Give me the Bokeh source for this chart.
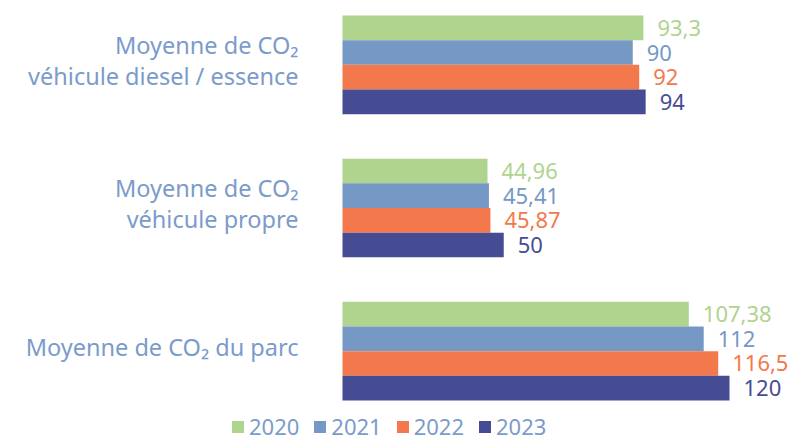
from bokeh.plotting import figure
from bokeh.layouts import column
from bokeh.models import FactorRange, Range1d, ColumnDataSource, Legend, LegendItem
from bokeh.core.properties import value
from bokeh.embed import file_html
from bokeh.resources import INLINE

categories = ["Moyenne de CO₂\nvéhicule diesel / essence",
              "Moyenne de CO₂\nvéhicule propre",
              "Moyenne de CO₂ du parc"]
years = ["2020", "2021", "2022", "2023"]
v2020 = [93.3, 44.96, 107.38]
v2021 = [90, 45.41, 112]
v2022 = [92, 45.87, 116.5]
v2023 = [94, 50, 120]
series = {"2020": v2020, "2021": v2021, "2022": v2022, "2023": v2023}
colors = {"2020": "#AED48E", "2021": "#7598C4", "2022": "#F3784C", "2023": "#464C94"}
label_color = "#7B9BCB"
FONT = "Noto Sans"

factors = [(c, y) for c in categories for y in years][::-1]

W = 789
PAD_PX = 8
UNIT_PX = 385.0 / 15.6
H_MAIN = 400 + PAD_PX
H_LEG = 441 - H_MAIN
zero_px = 342.0
scale = 387.0 / 120.0

p = figure(width=W, height=H_MAIN, output_backend="svg", toolbar_location=None,
           x_range=Range1d(-zero_px / scale, (W - zero_px) / scale),
           y_range=FactorRange(*factors, group_padding=1.8,
                               range_padding=PAD_PX / UNIT_PX, range_padding_units="absolute"),
           min_border_left=0, min_border_right=0, min_border_top=15 - PAD_PX, min_border_bottom=0)
p.axis.visible = False
p.grid.visible = False
p.outline_line_color = None
p.background_fill_color = "white"
p.border_fill_color = "white"

for y in years:
    vals = series[y]
    src = ColumnDataSource(dict(
        y=[(c, y) for c in categories],
        v=vals,
        lab=[f"{v:g}".replace(".", ",") for v in vals],
    ))
    p.hbar(y="y", left=0, right="v", height=1.0, source=src,
           fill_color=colors[y], line_color=None)
    p.text(x="v", y="y", text="lab", source=src, x_offset=14,
           text_align="left", text_baseline="middle",
           text_font=value(FONT), text_font_size="22px", text_color=colors[y])

lsrc = ColumnDataSource(dict(y=[(c, "2021") for c in categories], t=categories))
p.text(x=0, y="y", text="t", source=lsrc, x_offset=-44, y_offset=8,
       text_align="right", text_baseline="middle", text_line_height=0.95,
       text_font=value(FONT), text_font_size="23.5px", text_color=label_color)

# legend strip
q = figure(width=W, height=H_LEG, output_backend="svg", toolbar_location=None,
           x_range=Range1d(0, 1), y_range=Range1d(0, 1),
           min_border_left=0, min_border_right=0, min_border_top=0, min_border_bottom=0)
q.axis.visible = False
q.grid.visible = False
q.outline_line_color = None
items = []
for y in years:
    src = ColumnDataSource(dict(y=list(range(len(categories))), v=series[y]))
    r = q.hbar(y="y", right="v", height=1, source=src,
               fill_color=colors[y], line_color=None, visible=False)
    items.append(LegendItem(label=y, renderers=[r], index=0))
legend = Legend(items=items, orientation="horizontal", location=(230, 0),
                label_text_font=FONT, label_text_font_size="22px",
                label_text_color=label_color, glyph_width=15, glyph_height=15,
                label_standoff=4, spacing=13, padding=0, margin=0,
                border_line_color=None, background_fill_alpha=0,
                inactive_fill_alpha=0, label_height=20)
q.add_layout(legend, "center")

layout = column(p, q, spacing=0)
open("out.html", "w").write(file_html(layout, INLINE))
